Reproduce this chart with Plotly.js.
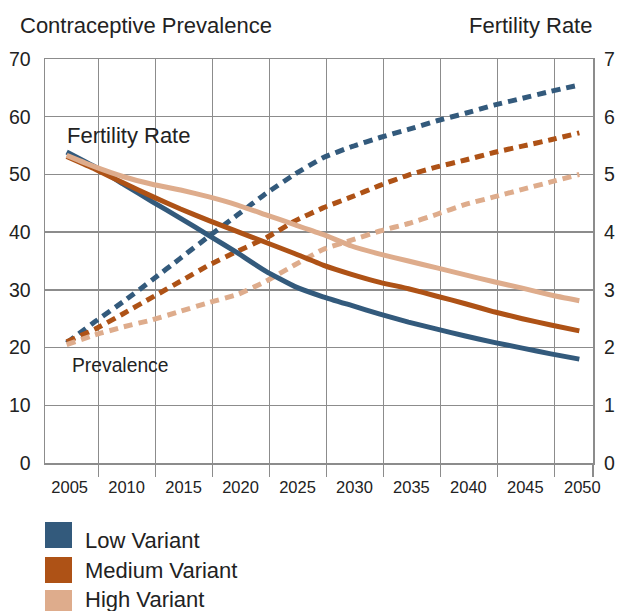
<!DOCTYPE html>
<html><head><meta charset="utf-8">
<script src="https://cdn.plot.ly/plotly-3.0.1.min.js"></script>
<style>html,body{margin:0;padding:0;background:#fff}#chart{width:618px;height:611px}</style>
</head><body><div id="chart"></div>
<script>
// ---- data ----
const years = [2005, 2007.5, 2010, 2012.5, 2015, 2017.5, 2020, 2022.5, 2025, 2027.5,
               2030, 2032.5, 2035, 2037.5, 2040, 2042.5, 2045, 2047.5, 2050];
const tickYears = [2005, 2010, 2015, 2020, 2025, 2030, 2035, 2040, 2045, 2050];
const variantNames = ['Low Variant', 'Medium Variant', 'High Variant'];
const variantColors = ['#335a7c', '#ae5216', '#deac8c'];
// fertility rate (right axis, children per woman)
const fertilityLow    = [5.39, 5.13, 4.83, 4.53, 4.24, 3.94, 3.64, 3.32, 3.06, 2.88,
                         2.73, 2.58, 2.44, 2.32, 2.20, 2.09, 1.99, 1.89, 1.80];
const fertilityMedium = [5.31, 5.09, 4.85, 4.62, 4.40, 4.20, 4.01, 3.82, 3.63, 3.43,
                         3.27, 3.13, 3.02, 2.89, 2.76, 2.62, 2.50, 2.39, 2.29];
const fertilityHigh   = [5.33, 5.13, 4.96, 4.83, 4.73, 4.61, 4.47, 4.30, 4.13, 3.96,
                         3.76, 3.62, 3.50, 3.38, 3.26, 3.14, 3.03, 2.91, 2.81];
// contraceptive prevalence (left axis, %)
const prevalenceLow    = [20.8, 24.5, 28.0, 31.7, 35.5, 39.3, 43.0, 46.7, 50.0, 52.9,
                          54.8, 56.4, 57.8, 59.3, 60.6, 62.0, 63.2, 64.4, 65.5];
const prevalenceMedium = [21.0, 23.2, 25.9, 28.7, 31.5, 34.3, 36.7, 39.0, 41.9, 44.2,
                          46.1, 48.1, 49.9, 51.3, 52.5, 53.8, 54.9, 56.0, 57.2];
const prevalenceHigh   = [20.5, 22.2, 23.6, 24.8, 26.3, 27.8, 29.2, 31.5, 34.3, 37.0,
                          38.6, 40.2, 41.5, 43.1, 44.8, 46.1, 47.4, 48.7, 50.0];
const leftTicks = [0, 10, 20, 30, 40, 50, 60, 70];
const rightTicks = [0, 1, 2, 3, 4, 5, 6, 7];

// ---- layout helpers ----
const W = 618, H = 611, ML = 45, MR = 25, MT = 59, MB = 148;
const PW = W - ML - MR, PH = H - MT - MB;
const fx = p => (p - ML) / PW;
const fy = p => (H - MB - p) / PH;
const gridColor = '#8c8c8c';
const textColor = '#222222';
const FONT = 'Liberation Sans, Arial, Helvetica, sans-serif';
const xRange = [2003.1, 2051.2];
const gridVals = tickYears.slice(0, -1).map(y => y + 2.8).concat([xRange[1] - 0.01]);

const fert = [fertilityLow, fertilityMedium, fertilityHigh];
const prev = [prevalenceLow, prevalenceMedium, prevalenceHigh];
const traces = [];
prev.forEach((s, i) => traces.push({
  type: 'scatter', mode: 'lines', x: years, y: s, xaxis: 'x', yaxis: 'y',
  name: variantNames[i] + ' prevalence', showlegend: false, hoverinfo: 'skip',
  line: {color: variantColors[i], width: 5, dash: '9px,6px', shape: 'spline', smoothing: 0.4}
}));
fert.forEach((s, i) => traces.push({
  type: 'scatter', mode: 'lines', x: years, y: s, xaxis: 'x2', yaxis: 'y2',
  name: variantNames[i] + ' fertility', showlegend: false, hoverinfo: 'skip',
  line: {color: variantColors[i], width: 5, shape: 'spline', smoothing: 0.4}
}));

const annotations = [
  {text: 'Contraceptive Prevalence', x: fx(18), y: fy(26), xanchor: 'left', yanchor: 'middle', font: {size: 22}},
  {text: 'Fertility Rate', x: fx(594), y: fy(26), xanchor: 'right', yanchor: 'middle', font: {size: 22}},
  {text: 'Fertility Rate', x: fx(65), y: fy(136), xanchor: 'left', yanchor: 'middle', font: {size: 22}},
  {text: 'Prevalence', x: fx(70), y: fy(365), xanchor: 'left', yanchor: 'middle', font: {size: 19.3}}
];
const shapes = [];
const legTops = [522, 557, 590];
const legText = [540, 570, 599];
variantNames.forEach((n, i) => {
  shapes.push({type: 'rect', xref: 'paper', yref: 'paper', x0: fx(45), x1: fx(72),
    y0: fy(legTops[i]), y1: fy(legTops[i] + 26), fillcolor: variantColors[i], line: {width: 0}});
  annotations.push({text: n, x: fx(83), y: fy(legText[i]), xanchor: 'left', yanchor: 'middle', font: {size: 22}});
});
annotations.forEach(a => { a.xref = 'paper'; a.yref = 'paper'; a.showarrow = false;
  a.font = Object.assign({family: FONT, color: textColor}, a.font); });

const layout = {
  width: W, height: H, margin: {l: ML, r: MR, t: MT, b: MB, autoexpand: false},
  paper_bgcolor: '#fff', plot_bgcolor: '#fff', showlegend: false,
  font: {family: FONT, color: textColor},
  // main x axis: vertical grid lines and outside tick marks
  xaxis: {range: xRange, tickvals: gridVals, showticklabels: false, showgrid: true,
    gridcolor: gridColor, gridwidth: 1.5, zeroline: false,
    showline: true, mirror: true, linecolor: gridColor, linewidth: 1.5,
    ticks: 'outside', ticklen: 12, tickcolor: gridColor, tickwidth: 1.5, anchor: 'y'},
  // overlay x axis: year labels
  xaxis2: {range: xRange, overlaying: 'x', anchor: 'y2', side: 'bottom', tickvals: tickYears,
    ticktext: tickYears.map(String), showgrid: false, zeroline: false, showline: false, ticks: '',
    tickfont: {size: 16.5, color: textColor}, ticklabelstandoff: 12, ticklabelshift: 3},
  yaxis: {range: [0, 70], tickvals: leftTicks, showgrid: true, gridcolor: gridColor, gridwidth: 1.5,
    zeroline: false, showline: true, mirror: true, linecolor: gridColor, linewidth: 1.5, ticks: '',
    tickfont: {size: 19.5, color: textColor}, ticklabelstandoff: 9},
  yaxis2: {range: [0, 7], tickvals: rightTicks, overlaying: 'y', side: 'right', anchor: 'x2',
    showgrid: false, zeroline: false, showline: false, ticks: '',
    tickfont: {size: 19.5, color: textColor}, ticklabelstandoff: 10},
  annotations: annotations, shapes: shapes
};
Plotly.newPlot('chart', traces, layout, {staticPlot: true, displayModeBar: false});
</script></body></html>
